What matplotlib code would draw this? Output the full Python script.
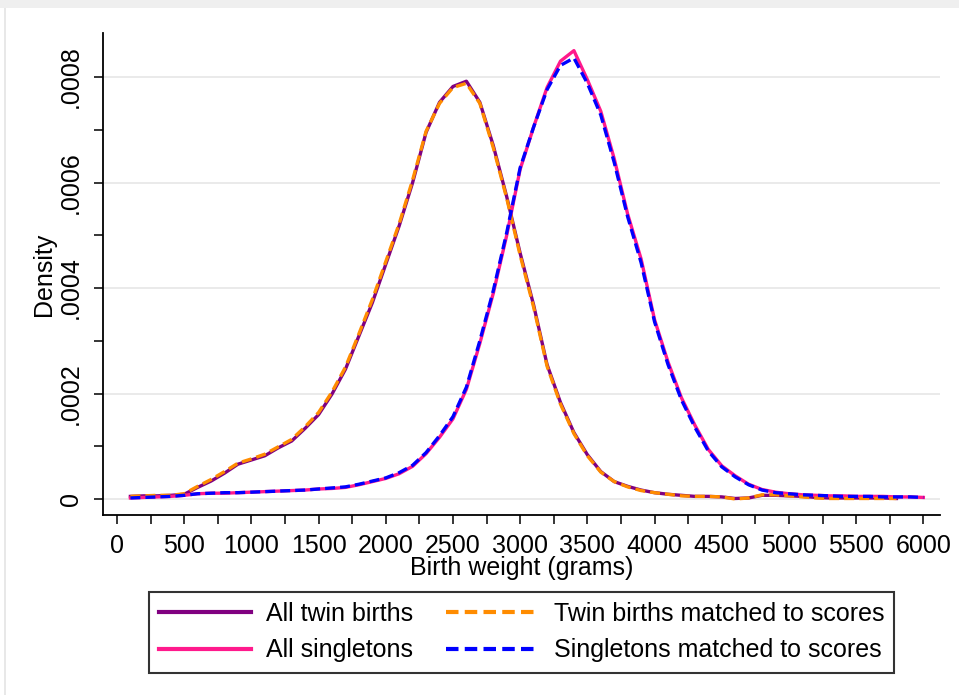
import numpy as np
import matplotlib
matplotlib.use("Agg")
import matplotlib.pyplot as plt
from matplotlib.patches import Rectangle
from matplotlib.ticker import FixedLocator, FuncFormatter

plt.rcParams['font.family'] = ['Liberation Sans', 'DejaVu Sans']

# birth weight grid (grams), densities (x 1e-4)
weight = np.arange(100, 6001, 100)

twins_all = [0.05, 0.06, 0.06, 0.07, 0.09, 0.22, 0.34, 0.49, 0.66, 0.74,
             0.82, 0.97, 1.10, 1.34, 1.60, 1.99, 2.46, 3.09, 3.72, 4.45,
             5.18, 6.00, 6.95, 7.52, 7.82, 7.92, 7.52, 6.70, 5.73, 4.66,
             3.68, 2.55, 1.83, 1.26, 0.84, 0.52, 0.33, 0.24, 0.17, 0.12,
             0.09, 0.07, 0.05, 0.05, 0.04, 0.01, 0.02, 0.07, 0.07, 0.06,
             0.05, 0.03, 0.02, 0.02, 0.02, 0.02, 0.02, 0.01]
twins_matched = [0.05, 0.06, 0.07, 0.07, 0.10, 0.24, 0.37, 0.52, 0.68, 0.76,
                 0.85, 0.99, 1.13, 1.37, 1.64, 2.03, 2.50, 3.13, 3.78, 4.50,
                 5.22, 6.05, 6.97, 7.50, 7.80, 7.88, 7.50, 6.66, 5.70, 4.62,
                 3.64, 2.52, 1.80, 1.24, 0.82, 0.51, 0.33, 0.23, 0.16, 0.12,
                 0.09, 0.06, 0.05, 0.05, 0.04, 0.00, 0.02, 0.08, 0.08, 0.06,
                 0.04, 0.02, 0.01, 0.01, 0.01, 0.01, 0.01, 0.01]
single_all = [0.02, 0.03, 0.04, 0.05, 0.07, 0.10, 0.11, 0.11, 0.12, 0.13,
              0.14, 0.15, 0.16, 0.17, 0.19, 0.20, 0.22, 0.27, 0.33, 0.39,
              0.48, 0.62, 0.86, 1.17, 1.52, 2.08, 2.95, 3.90, 5.00, 6.25,
              7.05, 7.80, 8.30, 8.50, 7.95, 7.35, 6.45, 5.40, 4.55, 3.40,
              2.60, 1.92, 1.40, 0.94, 0.63, 0.44, 0.28, 0.18, 0.13, 0.10,
              0.08, 0.07, 0.06, 0.06, 0.05, 0.05, 0.05, 0.04, 0.04, 0.03]
single_matched = [0.02, 0.03, 0.04, 0.05, 0.07, 0.10, 0.11, 0.12, 0.12, 0.13,
                  0.14, 0.15, 0.16, 0.17, 0.19, 0.21, 0.23, 0.28, 0.34, 0.40,
                  0.50, 0.64, 0.88, 1.20, 1.56, 2.12, 3.00, 3.95, 5.05, 6.28,
                  7.05, 7.76, 8.22, 8.36, 7.88, 7.28, 6.38, 5.35, 4.48, 3.36,
                  2.55, 1.88, 1.36, 0.91, 0.61, 0.42, 0.27, 0.17, 0.12, 0.10,
                  0.08, 0.07, 0.06, 0.05, 0.05, 0.05, 0.04, 0.04, 0.04, 0.03]

labels = ["All twin births", "All singletons",
          "Twin births matched to scores", "Singletons matched to scores"]
colors = ["#800080", "#ff1a8c", "#ff8c00", "#0000ff"]

fig = plt.figure(figsize=(9.59, 6.95), dpi=100)
fig.patches.append(Rectangle((0, 1 - 8 / 695), 1, 8 / 695, transform=fig.transFigure,
                             facecolor="#efefef", edgecolor="none"))
fig.patches.append(Rectangle((4 / 959, 0), 1.5 / 959, 1 - 8 / 695, transform=fig.transFigure,
                             facecolor="#e8e8e8", edgecolor="none"))

ax = fig.add_axes([103 / 959, 1 - 515 / 695, 837 / 959, 482 / 695])

scale = 1e-4
lw = 2.4
h1, = ax.plot(weight[:len(twins_all)], np.array(twins_all) * scale, color=colors[0], lw=lw)
h2, = ax.plot(weight[:len(single_all)], np.array(single_all) * scale, color=colors[1], lw=lw)
h3, = ax.plot(weight[:len(twins_matched)], np.array(twins_matched) * scale, color=colors[2],
              lw=lw, dashes=(3.0, 1.5))
h4, = ax.plot(weight[:len(single_matched)], np.array(single_matched) * scale, color=colors[3],
              lw=lw, dashes=(3.0, 1.5))

ax.set_xlim(-104, 6124)
ax.set_ylim(-3.03e-5, 8.834e-4)

ax.xaxis.set_major_locator(FixedLocator(np.arange(0, 6001, 500)))
ax.xaxis.set_minor_locator(FixedLocator(np.arange(250, 6000, 500)))
ax.yaxis.set_major_locator(FixedLocator([0, 0.0002, 0.0004, 0.0006, 0.0008]))
ax.yaxis.set_minor_locator(FixedLocator([0.0001, 0.0003, 0.0005, 0.0007]))
ax.yaxis.set_major_formatter(FuncFormatter(lambda v, p: "0" if v == 0 else ("%.4f" % v)[1:]))

ax.tick_params(which="both", direction="out", length=6.5, width=1.1, labelsize=18, colors="black")
ax.tick_params(axis="x", pad=7)
ax.tick_params(axis="y", labelrotation=90, pad=8)
for t in ax.get_yticklabels():
    t.set_va("center")

ax.grid(axis="y", which="major", color="#e6e6e6", lw=1.2)
ax.set_axisbelow(True)
for s in ["top", "right"]:
    ax.spines[s].set_visible(False)
for s in ["left", "bottom"]:
    ax.spines[s].set_linewidth(1.3)

ax.set_xlabel("Birth weight (grams)", fontsize=18, labelpad=-1)
ax.set_ylabel("Density", fontsize=18, labelpad=2)

leg = fig.legend([h1, h2, h3, h4], labels, ncol=2, loc="upper center",
                 bbox_to_anchor=(521.5 / 959, 1 - 592 / 695), fontsize=18,
                 frameon=True, fancybox=False, handlelength=3.7, handletextpad=0.6,
                 columnspacing=1.3, labelspacing=0.5, borderpad=0.4, borderaxespad=0)
leg.get_frame().set_edgecolor("black")
leg.get_frame().set_linewidth(1.5)
for ln in leg.get_lines():
    ln.set_linewidth(3.0)

fig.savefig("out.png", dpi=100, facecolor="white")
